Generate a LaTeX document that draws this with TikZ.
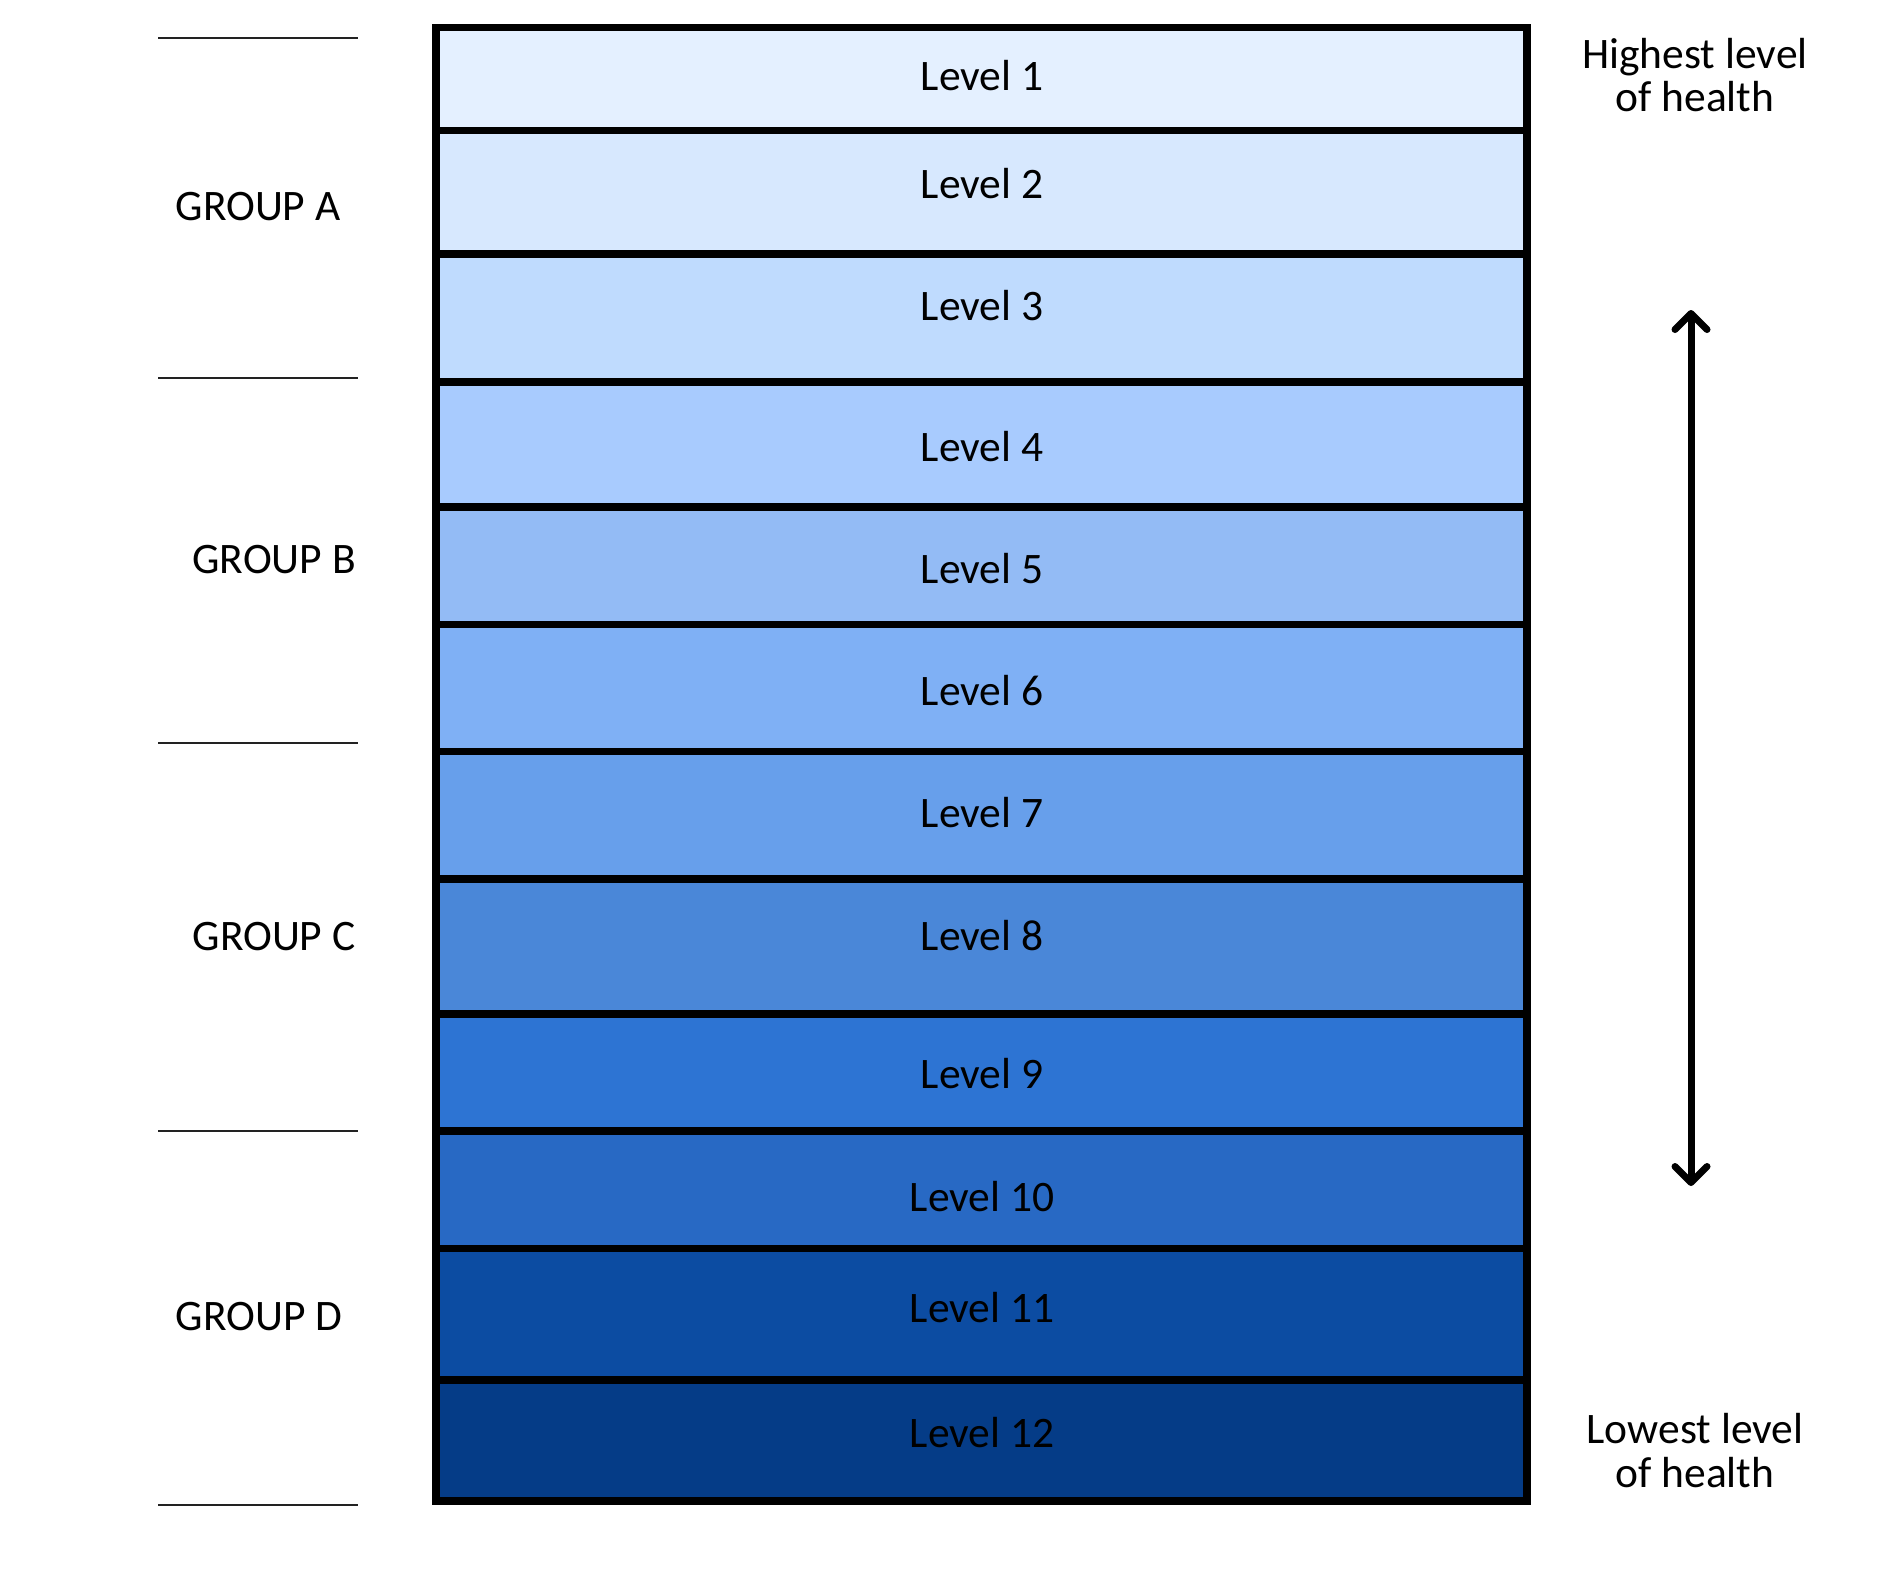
\documentclass[tikz,border=0pt]{standalone}
\usepackage{fontspec}
\setmainfont{Carlito}
\usetikzlibrary{arrows.meta}
\definecolor{c1}{HTML}{E4F0FF}
\definecolor{c2}{HTML}{D7E8FE}
\definecolor{c3}{HTML}{BFDBFE}
\definecolor{c4}{HTML}{A8CBFE}
\definecolor{c5}{HTML}{93BBF5}
\definecolor{c6}{HTML}{7FB0F5}
\definecolor{c7}{HTML}{679FEB}
\definecolor{c8}{HTML}{4A87D8}
\definecolor{c9}{HTML}{2D74D3}
\definecolor{c10}{HTML}{2869C4}
\definecolor{c11}{HTML}{0C4CA2}
\definecolor{c12}{HTML}{053C87}
\definecolor{grpline}{HTML}{222222}
\tikzset{
  lbl/.style={anchor=base, inner sep=0pt, font=\fontsize{21.75}{21.7}\selectfont},
  rowsep/.style={line width=3.75pt},
  frame/.style={line width=3.75pt},
  grp/.style={line width=1pt, draw=grpline},
  twoline/.style={align=center, inner sep=0pt, font=\fontsize{21.75}{21.7}\selectfont},
  updown/.style={line width=3.5pt, line cap=round,
    {Straight Barb[length=8pt, width=16pt, round]}-{Straight Barb[length=8pt, width=16pt, round]}}
}
\begin{document}
\begin{tikzpicture}[x=0.5pt,y=-0.5pt]
\useasboundingbox (0,0) rectangle (1880,1576);
\fill[white] (0,0) rectangle (1880,1576);
% row fills
\fill[c1]  (436,27.5)  rectangle (1527,130.5);
\fill[c2]  (436,130.5) rectangle (1527,254);
\fill[c3]  (436,254)   rectangle (1527,382);
\fill[c4]  (436,382)   rectangle (1527,507);
\fill[c5]  (436,507)   rectangle (1527,624.5);
\fill[c6]  (436,624.5) rectangle (1527,751.5);
\fill[c7]  (436,751.5) rectangle (1527,879);
\fill[c8]  (436,879)   rectangle (1527,1014);
\fill[c9]  (436,1014)  rectangle (1527,1131);
\fill[c10] (436,1131)  rectangle (1527,1248.7);
\fill[c11] (436,1248.7) rectangle (1527,1380);
\fill[c12] (436,1380)  rectangle (1527,1501);
% separators
\foreach \y in {130.5,254,382,507,624.5,751.5,879,1014,1131,1248.7,1380}
  \draw[rowsep] (436,\y) -- (1527,\y);
\draw[frame] (436,27.5) rectangle (1527,1501);
% level labels
\node[lbl] (l1)  at (982,90)   {Level 1};
\node[lbl] (l2)  at (982,198)  {Level 2};
\node[lbl] (l3)  at (982,320)  {Level 3};
\node[lbl] (l4)  at (982,461)  {Level 4};
\node[lbl] (l5)  at (982,583)  {Level 5};
\node[lbl] (l6)  at (982,705)  {Level 6};
\node[lbl] (l7)  at (982,827)  {Level 7};
\node[lbl] (l8)  at (982,950)  {Level 8};
\node[lbl] (l9)  at (982,1088) {Level 9};
\node[lbl] (l10) at (982,1211) {Level 10};
\node[lbl] (l11) at (982,1322) {Level 11};
\node[lbl] (l12) at (982,1447) {Level 12};
% group lines
\foreach \y in {38.3,377.7,743,1131,1505}
  \draw[grp] (158,\y) -- (358,\y);
% group labels
\node[lbl] (ga) at (258,220)  {GROUP A};
\node[lbl] (gb) at (274,573)  {GROUP B};
\node[lbl] (gc) at (274,950)  {GROUP C};
\node[lbl] (gd) at (259,1330) {GROUP D};
% right labels (base anchor = last line's baseline)
\node[twoline, anchor=base] (hi) at (1695,111.7) {Highest level\\of health};
\node[twoline, anchor=base] (lo) at (1695,1487) {Lowest level\\of health};
% arrow
\coordinate (atop) at (1691,310);
\coordinate (abot) at (1691,1186);
\draw[updown] (atop) -- (abot);
\end{tikzpicture}
\end{document}
